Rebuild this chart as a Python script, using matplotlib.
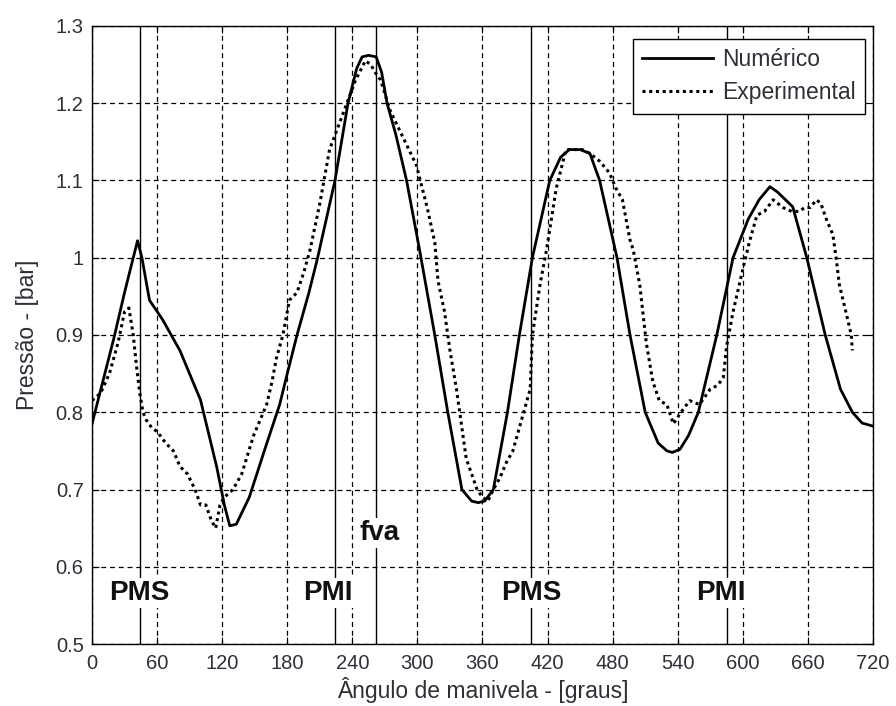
import matplotlib
matplotlib.use("Agg")
import matplotlib.pyplot as plt

# numerical model curve (angle in degrees, pressure in bar)
num_ang = [0, 10, 20, 30, 38, 42, 46, 53, 65, 81, 100, 115, 122, 127, 133, 145,
           160, 173, 180, 189, 200, 208, 216, 224, 236, 244, 249, 255, 262, 267,
           272, 280, 290, 302, 316, 328, 341, 350, 356, 362, 370, 383, 394, 406,
           422, 432, 440, 450, 459, 468, 484, 496, 510, 522, 530, 535, 542, 550,
           559, 576, 591, 605, 615, 625, 632, 646, 659, 676, 690, 701, 710, 720]
num_p = [0.785, 0.84, 0.895, 0.955, 1.0, 1.022, 1.0, 0.945, 0.92, 0.88, 0.816,
         0.729, 0.68, 0.653, 0.655, 0.69, 0.755, 0.81, 0.85, 0.90, 0.955, 1.0,
         1.05, 1.1, 1.2, 1.245, 1.26, 1.262, 1.26, 1.24, 1.2, 1.16, 1.1, 1.01,
         0.9, 0.8, 0.7, 0.685, 0.683, 0.685, 0.7, 0.8, 0.9, 1.0, 1.1, 1.13, 1.14,
         1.14, 1.135, 1.1, 1.0, 0.9, 0.8, 0.76, 0.75, 0.748, 0.752, 0.77, 0.8,
         0.9, 1.0, 1.05, 1.075, 1.092, 1.085, 1.066, 1.0, 0.9, 0.83, 0.8, 0.786,
         0.782]

# measured curve
exp_ang = [0, 8, 16, 24, 30, 34, 38, 41, 44, 47, 50, 55, 60, 68, 75, 81, 88, 95,
           100, 105, 110, 114, 118, 122, 126, 130, 138, 149, 155, 161, 166, 170,
           176, 182, 189, 195, 201, 210, 219, 227, 235, 243, 252, 257, 261, 266,
           275, 287, 299, 309, 316, 319, 325, 330, 336, 345, 350, 355, 360, 365,
           370, 376, 382, 388, 397, 404, 406, 413, 419, 428, 437, 445, 452, 459,
           468, 477, 483, 489, 496, 499, 505, 511, 517, 523, 530, 536, 543, 551,
           560, 570, 577, 582, 585, 591, 600, 606, 613, 620, 628, 637, 645, 652,
           657, 662, 668, 672, 677, 683, 686, 689, 695, 700, 701]
exp_p = [0.815, 0.825, 0.85, 0.89, 0.93, 0.935, 0.9, 0.86, 0.825, 0.80, 0.79,
         0.78, 0.775, 0.76, 0.75, 0.73, 0.72, 0.70, 0.68, 0.68, 0.66, 0.65, 0.68,
         0.69, 0.695, 0.70, 0.72, 0.77, 0.79, 0.81, 0.84, 0.87, 0.90, 0.945,
         0.955, 0.98, 1.01, 1.07, 1.14, 1.17, 1.20, 1.23, 1.255, 1.25, 1.24, 1.23,
         1.19, 1.155, 1.12, 1.065, 1.02, 0.97, 0.93, 0.88, 0.83, 0.74, 0.72, 0.70,
         0.69, 0.685, 0.70, 0.715, 0.735, 0.75, 0.795, 0.83, 0.90, 0.965, 1.01,
         1.09, 1.14, 1.14, 1.14, 1.135, 1.125, 1.11, 1.09, 1.075, 1.023, 1.01,
         0.965, 0.89, 0.84, 0.815, 0.81, 0.785, 0.80, 0.815, 0.81, 0.83, 0.835,
         0.845, 0.885, 0.93, 0.985, 1.02, 1.055, 1.06, 1.075, 1.065, 1.06, 1.06,
         1.065, 1.065, 1.075, 1.07, 1.05, 1.03, 1.0, 0.965, 0.93, 0.90, 0.88]

# event markers: dead centres and exhaust valve opening
event_ang = [44, 224, 262, 405, 585]
label_txt = ["PMS", "PMI", "fva", "PMS", "PMI"]
label_ang = [44, 217, 265, 405, 580]
label_p = [0.566, 0.566, 0.644, 0.566, 0.566]

x_ticks = list(range(0, 721, 60))
y_ticks = [0.5, 0.6, 0.7, 0.8, 0.9, 1.0, 1.1, 1.2, 1.3]
y_tick_labels = ["0.5", "0.6", "0.7", "0.8", "0.9", "1", "1.1", "1.2", "1.3"]

plt.rcParams["font.family"] = ["Liberation Sans", "DejaVu Sans"]
txt_col = "#2f2f3a"

fig = plt.figure(figsize=(8.96, 7.06), dpi=100)
ax = fig.add_axes([0.1027, 0.0878, 0.8716, 0.8754])

ax.plot(num_ang, num_p, color="black", lw=2.0, label="Numérico")
ax.plot(exp_ang, exp_p, color="black", lw=2.2, linestyle=(0, (1, 1.2)),
        label="Experimental")

for a in event_ang:
    ax.axvline(a, color="black", lw=1.0, zorder=1)

# labels sit on a white patch, hiding the lines behind them
for t, a, p in zip(label_txt, label_ang, label_p):
    ax.text(a, p, t, ha="center", va="center", fontsize=20, fontweight="bold",
            color="#111111", zorder=4,
            bbox=dict(facecolor="white", edgecolor="none", pad=1.5))

ax.set_xlim(0, 720)
ax.set_ylim(0.5, 1.3)
ax.set_xticks(x_ticks)
ax.set_yticks(y_ticks)
ax.set_yticklabels(y_tick_labels)
ax.grid(True, color="black", linestyle=(0, (4, 3)), lw=0.9)
ax.tick_params(direction="in", length=5, top=True, right=True,
               labelsize=14.5, labelcolor=txt_col)
ax.tick_params(axis="x", pad=7)
ax.tick_params(axis="y", pad=6)
for s in ax.spines.values():
    s.set_linewidth(1.0)

ax.set_xlabel("Ângulo de manivela - [graus]", fontsize=16.5, color=txt_col,
              labelpad=3)
ax.set_ylabel("Pressão - [bar]", fontsize=16.5, color=txt_col, labelpad=12)

leg = ax.legend(loc="upper right", bbox_to_anchor=(0.9898, 0.979),
                fontsize=16.5, fancybox=False, framealpha=1,
                edgecolor="black", handlelength=3.1, handletextpad=0.4,
                borderpad=0.4, borderaxespad=0, labelspacing=0.45)
leg.get_frame().set_linewidth(1.0)
for t in leg.get_texts():
    t.set_color(txt_col)

fig.savefig("out.png", dpi=100)
